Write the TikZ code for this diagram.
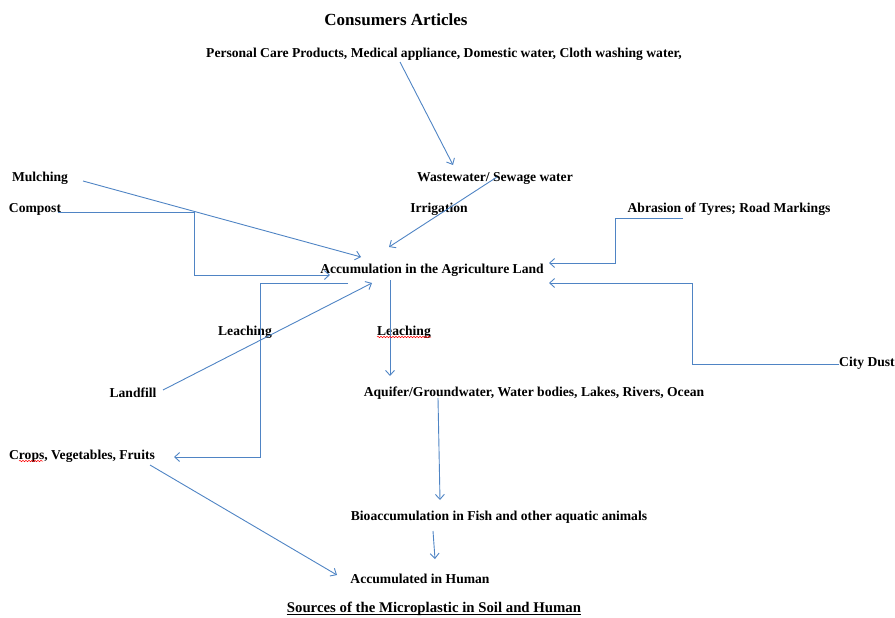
\documentclass[tikz,border=0pt]{standalone}
\usepackage{fontspec}
\setmainfont{Liberation Serif}
\usetikzlibrary{arrows.meta}
\usetikzlibrary{decorations.pathmorphing}

\definecolor{flowblue}{HTML}{4F84C4}

\begin{document}
\begin{tikzpicture}[x=1pt, y=-1pt,
  lbl/.style={inner sep=0pt, font=\fontsize{13.6}{15}\selectfont\bfseries},
  flow/.style={draw=flowblue, line width=0.9pt, -{Straight Barb[length=5pt,width=9pt]}},
  spell/.style={draw=red, line width=0.5pt, decorate, decoration={snake, amplitude=0.7pt, segment length=3pt}}]
  \useasboundingbox (0,0) rectangle (895,618);

  % Sources on top
  \node[lbl, font=\fontsize{17}{19}\selectfont\bfseries] (consumer) at (396,20) {Consumers Articles};
  \node[lbl] (personal) at (444,54) {Personal Care Products, Medical appliance, Domestic water, Cloth washing water,};
  \node[lbl] (waste) at (495,178) {Wastewater/ Sewage water};
  \node[lbl] (irrig) at (439,209) {Irrigation};

  % Sources on the sides
  \node[lbl] (mulch) at (40,178) {Mulching};
  \node[lbl] (compost) at (35,209) {Compost};
  \node[lbl] (abrasion) at (729,209) {Abrasion of Tyres; Road Markings};
  \node[lbl] (city) at (867,363) {City Dust};
  \node[lbl] (landfill) at (133,393) {Landfill};

  % Sinks
  \node[lbl] (acc) at (432,270) {Accumulation in the Agriculture Land};
  \node[lbl] (leachL) at (245,332) {Leaching};
  \node[lbl] (leachR) at (404,332) {Leaching};
  \node[lbl] (aquifer) at (534,393) {Aquifer/Groundwater, Water bodies, Lakes, Rivers, Ocean};
  \node[lbl] (crops) at (82,456) {Crops, Vegetables, Fruits};
  \node[lbl] (bio) at (499,517) {Bioaccumulation in Fish and other aquatic animals};
  \node[lbl] (human) at (420,579) {Accumulated in Human};

  % Caption
  \node[lbl, font=\fontsize{14.8}{16}\selectfont\bfseries] (caption) at (434,609) {Sources of the Microplastic in Soil and Human};
  \draw[line width=0.6pt] ([yshift=-1.6pt]caption.base west) -- ([yshift=-1.6pt]caption.base east);

  % Routings
  \draw[flow] ([shift={(-44,8)}]personal.center) -- ([shift={(-42,-13)}]waste.center); % Into wastewater
  \draw[flow] ([shift={(2,-1)}]waste.center) -- ([shift={(-43,-23)}]acc.center); % Irrigation
  \draw[flow] ([shift={(43,3)}]mulch.center) -- ([shift={(-71,-13)}]acc.center); % Mulching
  \draw[flow] ([shift={(23,3)}]compost.center) -- ++(136,0) |- ([shift={(-102,5)}]acc.center); % Compost
  \draw[flow] ([shift={(-46,9)}]abrasion.center) -- ++(-68,0) |- ([shift={(117,-7)}]acc.center); % Tyres
  \draw[flow] ([shift={(-28,1)}]city.center) -- ++(-147,0) |- ([shift={(117,13)}]acc.center); % City dust
  \draw[flow] ([shift={(30,-3)}]landfill.center) -- ([shift={(-60,13)}]acc.center); % Landfill
  \draw[flow] ([shift={(-84,13)}]acc.center) -- ++(-88,0) |- ([shift={(92,1)}]crops.center); % Into crops
  \draw[flow] ([shift={(-42,10)}]acc.center) -- ([shift={(-144,-17)}]aquifer.center); % Leaching down
  \draw[flow] ([shift={(-96,5)}]aquifer.center) -- ([shift={(-59,-17)}]bio.center); % Into fish
  \draw[flow] ([shift={(-66,14)}]bio.center) -- ([shift={(15,-20)}]human.center); % Fish to human
  \draw[flow] ([shift={(68,9)}]crops.center) -- ([shift={(-83,-4)}]human.center); % Crops to human

  % Spelling marks
  \draw[spell] ([shift={(-27,5)}]leachR.center) -- ([shift={(27,5)}]leachR.center);
  \draw[spell] ([shift={(-63,5)}]crops.center) -- ([shift={(-39,5)}]crops.center);
\end{tikzpicture}
\end{document}
